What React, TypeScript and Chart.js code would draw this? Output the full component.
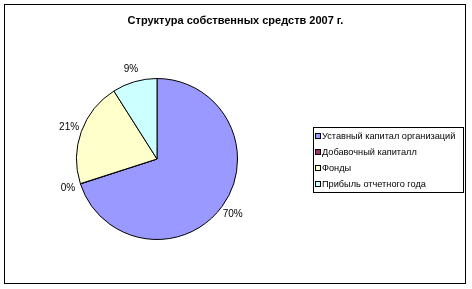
import React, { useEffect, useRef } from "react";
import Chart from "chart.js/auto";

const titleText = "Структура собственных средств 2007 г.";
const categories = [
  "Уставный капитал организаций",
  "Добавочный капиталл",
  "Фонды",
  "Прибыль отчетного года",
];
const values = [70.0, 0.05, 20.95, 9.0];
const colors = ["#9999FF", "#993366", "#FFFFCC", "#CCFFFF"];

const FONT = "'Liberation Sans', Arial, sans-serif";

const framePlugin = {
  id: "frame",
  afterDraw(chart: any) {
    const ctx = chart.ctx;
    ctx.save();
    // outer border
    ctx.strokeStyle = "#000";
    ctx.lineWidth = 1;
    ctx.strokeRect(4.5, 4.5, 461, 279);
    // title
    ctx.fillStyle = "#000";
    ctx.font = `bold 11px ${FONT}`;
    ctx.textAlign = "center";
    ctx.textBaseline = "middle";
    ctx.fillText(titleText, 235.5, 20.5);
    // legend
    const lx = 313.5, ly = 127.5, lw = 150, lh = 65;
    ctx.fillStyle = "#fff";
    ctx.fillRect(lx, ly, lw, lh);
    ctx.strokeStyle = "#000";
    ctx.strokeRect(lx, ly, lw, lh);
    ctx.font = `9.2px ${FONT}`;
    ctx.textAlign = "left";
    const labels = chart.data.labels as string[];
    const bg = chart.data.datasets[0].backgroundColor as string[];
    labels.forEach((lab, i) => {
      const cy = 136 + i * 16;
      ctx.fillStyle = bg[i];
      ctx.fillRect(315.5, cy - 2.5, 5, 5);
      ctx.strokeStyle = "#000";
      ctx.strokeRect(315.5, cy - 2.5, 5, 5);
      ctx.fillStyle = "#000";
      ctx.fillText(lab, 322, cy + 0.5);
    });
    ctx.restore();
  },
  afterDatasetsDraw(chart: any) {
    const ctx = chart.ctx;
    const meta = chart.getDatasetMeta(0);
    const data = chart.data.datasets[0].data as number[];
    const total = data.reduce((a, b) => a + b, 0);
    ctx.save();
    ctx.font = `10px ${FONT}`;
    ctx.fillStyle = "#000";
    ctx.textAlign = "center";
    ctx.textBaseline = "middle";
    meta.data.forEach((arc: any, i: number) => {
      const { x, y, startAngle, endAngle, outerRadius } = arc.getProps(
        ["x", "y", "startAngle", "endAngle", "outerRadius"],
        true
      );
      const mid = (startAngle + endAngle) / 2;
      const r = outerRadius + 13;
      const pct = Math.round((data[i] / total) * 100);
      ctx.fillText(pct + "%", x + Math.cos(mid) * r, y + Math.sin(mid) * r);
    });
    ctx.restore();
  },
};

export default function App() {
  const ref = useRef<HTMLCanvasElement>(null);
  useEffect(() => {
    document.body.style.margin = "0";
    const chart = new Chart(ref.current!, {
      type: "pie",
      data: {
        labels: categories,
        datasets: [
          {
            data: values,
            backgroundColor: colors,
            borderColor: "#000",
            borderWidth: 1,
          },
        ],
      },
      options: {
        animation: false,
        responsive: false,
        events: [],
        layout: { padding: { left: 76, right: 234, top: 78, bottom: 49 } },
        plugins: {
          legend: { display: false },
          title: { display: false },
          tooltip: { enabled: false },
        },
      },
      plugins: [framePlugin],
    });
    return () => chart.destroy();
  }, []);
  return (
    <div style={{ width: 472, height: 289, background: "#fff" }}>
      <canvas ref={ref} width={472} height={289} />
    </div>
  );
}
